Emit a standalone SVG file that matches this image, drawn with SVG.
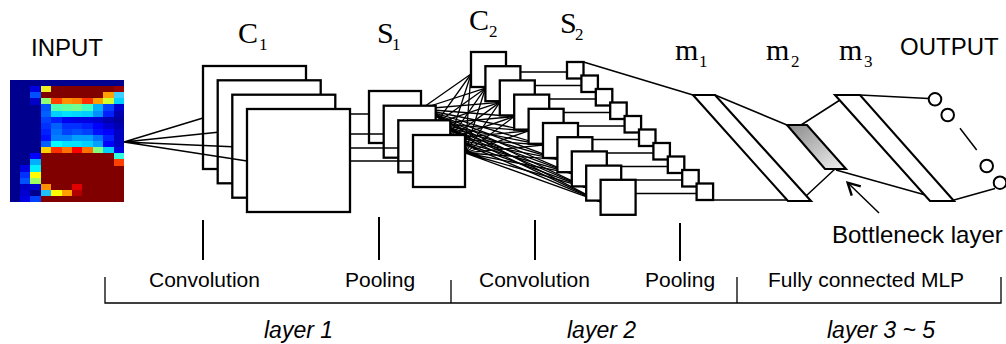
<svg xmlns="http://www.w3.org/2000/svg" width="1006" height="344" viewBox="0 0 1006 344">
  <defs>
    <linearGradient id="bottleneck-fill" x1="0" y1="0" x2="1" y2="1">
      <stop offset="0" stop-color="#8a8a8a"/>
      <stop offset="1" stop-color="#f2f2f2"/>
    </linearGradient>
    <marker id="open-arrow" viewBox="0 0 16 16" refX="13.5" refY="8" markerWidth="16" markerHeight="16" markerUnits="userSpaceOnUse" orient="auto">
      <path d="M2,1.5 L14,8 L2,14.5" fill="none" stroke="#000" stroke-width="2.4"/>
    </marker>
  </defs>
  <style>
    .map { fill: #fff; stroke: #000; stroke-width: 2.3; }
    .layer { fill: #fff; stroke: #000; stroke-width: 2.1; stroke-linejoin: miter; }
    .edge { fill: none; stroke: #000; stroke-width: 1.5; }
    .fan { fill: none; stroke: #000; stroke-width: 1.3; }
    .tick { stroke: #000; stroke-width: 2; }
    .bracket { fill: none; stroke: #000; stroke-width: 1.3; }
    .unit { fill: #fff; stroke: #000; stroke-width: 2; }
    .sans { font-family: "Liberation Sans", Arial, Helvetica, sans-serif; fill: #000; }
    .title { font-size: 24px; }
    .stage { font-size: 21px; }
    .layername { font-size: 23px; font-style: italic; }
    .sym { font-family: "Liberation Serif", "Times New Roman", serif; font-size: 30px; fill: #000; }
    .sub { font-size: 17px; }
  </style>

  <rect width="1006" height="344" fill="#fff"/>

  <!-- input feature map (11 x 20 cells, jet colour scale) -->
  <g id="input" shape-rendering="crispEdges">
    <rect x="9.5" y="80" width="114.4" height="122" fill="#00008f"/>
    <!-- large dark red areas -->
    <rect x="51.1" y="86.1" width="62.5" height="6.2" fill="#800000"/>
    <rect x="113.5" y="86.1" width="10.4" height="6.2" fill="#9a0000"/>
    <rect x="40.7" y="92.2" width="62.5" height="6.2" fill="#800000"/>
    <rect x="40.7" y="153.2" width="83.2" height="48.8" fill="#800000"/>
    <!-- row 2 -->
    <rect x="30.3" y="86.1" width="10.5" height="6.2" fill="#0000e0"/>
    <rect x="40.7" y="86.1" width="10.5" height="6.2" fill="#f0f020"/>
    <!-- row 3 -->
    <rect x="30.3" y="92.2" width="10.5" height="6.2" fill="#0050ff"/>
    <rect x="103.1" y="92.2" width="10.5" height="6.2" fill="#ffa000"/>
    <rect x="113.5" y="92.2" width="10.4" height="6.2" fill="#40d0ff"/>
    <!-- row 4 -->
    <rect x="30.3" y="98.3" width="10.5" height="6.2" fill="#0000c8"/>
    <rect x="40.7" y="98.3" width="10.5" height="6.2" fill="#90ff70"/>
    <rect x="51.1" y="98.3" width="10.5" height="6.2" fill="#ff4000"/>
    <rect x="61.5" y="98.3" width="10.5" height="6.2" fill="#ff9000"/>
    <rect x="71.9" y="98.3" width="10.5" height="6.2" fill="#ff8000"/>
    <rect x="82.3" y="98.3" width="10.5" height="6.2" fill="#ff3000"/>
    <rect x="92.7" y="98.3" width="10.5" height="6.2" fill="#ffa000"/>
    <rect x="103.1" y="98.3" width="10.5" height="6.2" fill="#d0ff30"/>
    <rect x="113.5" y="98.3" width="10.4" height="6.2" fill="#00d0ff"/>
    <!-- row 5 -->
    <rect x="40.7" y="104.4" width="10.5" height="6.2" fill="#0050ff"/>
    <rect x="51.1" y="104.4" width="10.5" height="6.2" fill="#50ffb0"/>
    <rect x="61.5" y="104.4" width="10.5" height="6.2" fill="#60ffa0"/>
    <rect x="71.9" y="104.4" width="10.5" height="6.2" fill="#70ff90"/>
    <rect x="82.3" y="104.4" width="10.5" height="6.2" fill="#40ffc0"/>
    <rect x="92.7" y="104.4" width="10.5" height="6.2" fill="#00b0ff"/>
    <rect x="103.1" y="104.4" width="10.5" height="6.2" fill="#0040ff"/>
    <rect x="113.5" y="104.4" width="10.4" height="6.2" fill="#0000d0"/>
    <!-- row 6 -->
    <rect x="40.7" y="110.5" width="10.5" height="6.2" fill="#0060ff"/>
    <rect x="51.1" y="110.5" width="10.5" height="6.2" fill="#00d0ff"/>
    <rect x="61.5" y="110.5" width="10.5" height="6.2" fill="#00e0ff"/>
    <rect x="71.9" y="110.5" width="10.5" height="6.2" fill="#00d8ff"/>
    <rect x="82.3" y="110.5" width="10.5" height="6.2" fill="#00d0ff"/>
    <rect x="92.7" y="110.5" width="10.5" height="6.2" fill="#0090ff"/>
    <rect x="103.1" y="110.5" width="10.5" height="6.2" fill="#0020ff"/>
    <rect x="113.5" y="110.5" width="10.4" height="6.2" fill="#0000b0"/>
    <!-- row 7 -->
    <rect x="40.7" y="116.6" width="10.5" height="6.2" fill="#0040ff"/>
    <rect x="51.1" y="116.6" width="10.5" height="6.2" fill="#0020ff"/>
    <rect x="61.5" y="116.6" width="10.5" height="6.2" fill="#0000f0"/>
    <rect x="71.9" y="116.6" width="10.5" height="6.2" fill="#0000e0"/>
    <rect x="82.3" y="116.6" width="10.5" height="6.2" fill="#0000e0"/>
    <rect x="92.7" y="116.6" width="10.5" height="6.2" fill="#0000d0"/>
    <rect x="103.1" y="116.6" width="10.5" height="6.2" fill="#0000b0"/>
    <rect x="113.5" y="116.6" width="10.4" height="6.2" fill="#0000a0"/>
    <!-- row 8 -->
    <rect x="40.7" y="122.7" width="10.5" height="6.2" fill="#0030ff"/>
    <rect x="51.1" y="122.7" width="10.5" height="6.2" fill="#0060ff"/>
    <rect x="61.5" y="122.7" width="10.5" height="6.2" fill="#0030ff"/>
    <rect x="71.9" y="122.7" width="10.5" height="6.2" fill="#0030ff"/>
    <rect x="82.3" y="122.7" width="10.5" height="6.2" fill="#0020ff"/>
    <rect x="92.7" y="122.7" width="10.5" height="6.2" fill="#0000ff"/>
    <rect x="103.1" y="122.7" width="10.5" height="6.2" fill="#0000d0"/>
    <rect x="113.5" y="122.7" width="10.4" height="6.2" fill="#0000b0"/>
    <!-- row 9 -->
    <rect x="40.7" y="128.8" width="10.5" height="6.2" fill="#0020ff"/>
    <rect x="51.1" y="128.8" width="10.5" height="6.2" fill="#0070ff"/>
    <rect x="61.5" y="128.8" width="10.5" height="6.2" fill="#0040ff"/>
    <rect x="71.9" y="128.8" width="10.5" height="6.2" fill="#0050ff"/>
    <rect x="82.3" y="128.8" width="10.5" height="6.2" fill="#0040ff"/>
    <rect x="92.7" y="128.8" width="10.5" height="6.2" fill="#0010ff"/>
    <rect x="103.1" y="128.8" width="10.5" height="6.2" fill="#0000ff"/>
    <rect x="113.5" y="128.8" width="10.4" height="6.2" fill="#0000c0"/>
    <!-- row 10 -->
    <rect x="40.7" y="134.9" width="10.5" height="6.2" fill="#0010ff"/>
    <rect x="51.1" y="134.9" width="10.5" height="6.2" fill="#0080ff"/>
    <rect x="61.5" y="134.9" width="10.5" height="6.2" fill="#0080ff"/>
    <rect x="71.9" y="134.9" width="10.5" height="6.2" fill="#00a0ff"/>
    <rect x="82.3" y="134.9" width="10.5" height="6.2" fill="#00a0ff"/>
    <rect x="92.7" y="134.9" width="10.5" height="6.2" fill="#0070ff"/>
    <rect x="103.1" y="134.9" width="10.5" height="6.2" fill="#0020ff"/>
    <rect x="113.5" y="134.9" width="10.4" height="6.2" fill="#0000c0"/>
    <!-- row 11 -->
    <rect x="40.7" y="141" width="10.5" height="6.2" fill="#0060ff"/>
    <rect x="51.1" y="141" width="10.5" height="6.2" fill="#00ffff"/>
    <rect x="61.5" y="141" width="10.5" height="6.2" fill="#00e0ff"/>
    <rect x="71.9" y="141" width="10.5" height="6.2" fill="#00e0ff"/>
    <rect x="82.3" y="141" width="10.5" height="6.2" fill="#00d0ff"/>
    <rect x="92.7" y="141" width="10.5" height="6.2" fill="#00a0ff"/>
    <rect x="103.1" y="141" width="10.5" height="6.2" fill="#0000ff"/>
    <rect x="113.5" y="141" width="10.4" height="6.2" fill="#0000c0"/>
    <!-- row 12 -->
    <rect x="40.7" y="147.1" width="10.5" height="6.2" fill="#ffd000"/>
    <rect x="51.1" y="147.1" width="10.5" height="6.2" fill="#ff3000"/>
    <rect x="61.5" y="147.1" width="10.5" height="6.2" fill="#ff7000"/>
    <rect x="71.9" y="147.1" width="10.5" height="6.2" fill="#ff0000"/>
    <rect x="82.3" y="147.1" width="10.5" height="6.2" fill="#ff7000"/>
    <rect x="92.7" y="147.1" width="10.5" height="6.2" fill="#80ff80"/>
    <rect x="103.1" y="147.1" width="10.5" height="6.2" fill="#00d0ff"/>
    <rect x="113.5" y="147.1" width="10.4" height="6.2" fill="#0000e0"/>
    <!-- rows 13-20 -->
    <rect x="30.3" y="153.2" width="10.5" height="6.2" fill="#0000ff"/>
    <rect x="113.5" y="153.2" width="10.4" height="6.2" fill="#30ffe0"/>
    <rect x="30.3" y="159.3" width="10.5" height="6.2" fill="#00b0ff"/>
    <rect x="113.5" y="159.3" width="10.4" height="6.2" fill="#ff4000"/>
    <rect x="19.9" y="165.4" width="10.5" height="6.2" fill="#0000e0"/>
    <rect x="30.3" y="165.4" width="10.5" height="6.2" fill="#00f0ff"/>
    <rect x="19.9" y="171.5" width="10.5" height="6.2" fill="#0030ff"/>
    <rect x="30.3" y="171.5" width="10.5" height="6.2" fill="#ffff00"/>
    <rect x="19.9" y="177.6" width="10.5" height="6.2" fill="#0050ff"/>
    <rect x="30.3" y="177.6" width="10.5" height="6.2" fill="#a0ff60"/>
    <rect x="19.9" y="183.7" width="10.5" height="6.2" fill="#0000c0"/>
    <rect x="30.3" y="183.7" width="10.5" height="6.2" fill="#0000d0"/>
    <rect x="40.7" y="183.7" width="10.5" height="6.2" fill="#ff9000"/>
    <rect x="71.9" y="183.7" width="10.5" height="6.2" fill="#e00000"/>
    <rect x="19.9" y="189.8" width="10.5" height="6.2" fill="#0000d0"/>
    <rect x="40.7" y="189.8" width="10.5" height="6.2" fill="#20c0ff"/>
    <rect x="51.1" y="189.8" width="10.5" height="6.2" fill="#ffff00"/>
    <rect x="61.5" y="189.8" width="10.5" height="6.2" fill="#ffa000"/>
    <rect x="71.9" y="189.8" width="10.5" height="6.2" fill="#b00000"/>
    <rect x="19.9" y="195.9" width="10.5" height="6.1" fill="#0000e0"/>
    <rect x="30.3" y="195.9" width="10.5" height="6.1" fill="#0040ff"/>
  </g>

  <!-- C1: four convolution maps -->
  <g id="c1">
    <rect class="map" x="203" y="66" width="103" height="103"/>
    <rect class="map" x="217.7" y="80.3" width="103" height="103"/>
    <rect class="map" x="232.3" y="94.7" width="103" height="103"/>
    <rect class="map" x="247" y="109" width="103" height="103"/>
  </g>

  <g id="edges-input-c1" class="connectors">
    <path class="edge" d="M124 142L203 118M124 142L217.7 132.3M124 142L232.3 146.7M124 142L247 161"/>
  </g>

  <!-- full connection S1 -> C2, and C2 -> S2 -->
  <g id="edges-s1-c2" class="connectors">
    <path class="fan" d="M421 109L471 74M421 109L485.4 88.2M421 109L499.8 102.4M421 109L514.2 116.6M421 109L528.6 130.8M421 109L543 145M421 109L557.4 159.2M421 109L571.8 173.4M421 109L586.2 187.6M421 109L600.6 201.8"/>
    <path class="fan" d="M435.7 123.7L471 74M435.7 123.7L485.4 88.2M435.7 123.7L499.8 102.4M435.7 123.7L514.2 116.6M435.7 123.7L528.6 130.8M435.7 123.7L543 145M435.7 123.7L557.4 159.2M435.7 123.7L571.8 173.4M435.7 123.7L586.2 187.6M435.7 123.7L600.6 201.8"/>
    <path class="fan" d="M450.3 138.3L471 74M450.3 138.3L485.4 88.2M450.3 138.3L499.8 102.4M450.3 138.3L514.2 116.6M450.3 138.3L528.6 130.8M450.3 138.3L543 145M450.3 138.3L557.4 159.2M450.3 138.3L571.8 173.4M450.3 138.3L586.2 187.6M450.3 138.3L600.6 201.8"/>
    <path class="fan" d="M465 153L471 74M465 153L485.4 88.2M465 153L499.8 102.4M465 153L514.2 116.6M465 153L528.6 130.8M465 153L543 145M465 153L557.4 159.2M465 153L571.8 173.4M465 153L586.2 187.6M465 153L600.6 201.8"/>
  </g>
  <g id="edges-c2-s2" class="connectors">
    <path class="edge" d="M506 72H567M520.4 85.5H581.4M534.8 99H595.8M549.2 112.5H610.2M563.6 126H624.6M578 139.5H639M592.4 153H653.4M606.8 166.5H667.8M621.2 180H682.2M635.6 193.5H696.6"/>
  </g>

  <!-- S1: four pooling maps -->
  <g id="s1">
    <rect class="map" x="369" y="91" width="52" height="52"/>
    <rect class="map" x="383.7" y="105.7" width="52" height="52"/>
    <rect class="map" x="398.3" y="120.3" width="52" height="52"/>
    <rect class="map" x="413" y="135" width="52" height="52"/>
  </g>

  <g id="edges-c1-s1" class="connectors">
    <path class="edge" d="M350 114H369M350 134H383.7M350 148H398.3M350 161H413"/>
  </g>

  <!-- C2: ten convolution maps -->
  <g id="c2">
    <rect class="map" x="471" y="52" width="35" height="35"/>
    <rect class="map" x="485.4" y="66.2" width="35" height="35"/>
    <rect class="map" x="499.8" y="80.4" width="35" height="35"/>
    <rect class="map" x="514.2" y="94.6" width="35" height="35"/>
    <rect class="map" x="528.6" y="108.8" width="35" height="35"/>
    <rect class="map" x="543" y="123" width="35" height="35"/>
    <rect class="map" x="557.4" y="137.2" width="35" height="35"/>
    <rect class="map" x="571.8" y="151.4" width="35" height="35"/>
    <rect class="map" x="586.2" y="165.6" width="35" height="35"/>
    <rect class="map" x="600.6" y="179.8" width="35" height="35"/>
  </g>

  <!-- S2: ten pooling maps -->
  <g id="s2">
    <rect class="map" x="567" y="62" width="16.5" height="16.5"/>
    <rect class="map" x="581.4" y="75.5" width="16.5" height="16.5"/>
    <rect class="map" x="595.8" y="89" width="16.5" height="16.5"/>
    <rect class="map" x="610.2" y="102.5" width="16.5" height="16.5"/>
    <rect class="map" x="624.6" y="116" width="16.5" height="16.5"/>
    <rect class="map" x="639" y="129.5" width="16.5" height="16.5"/>
    <rect class="map" x="653.4" y="143" width="16.5" height="16.5"/>
    <rect class="map" x="667.8" y="156.5" width="16.5" height="16.5"/>
    <rect class="map" x="682.2" y="170" width="16.5" height="16.5"/>
    <rect class="map" x="696.6" y="183.5" width="16.5" height="16.5"/>
  </g>

  <!-- fully connected part -->
  <g id="edges-mlp" class="connectors">
    <path class="edge" d="M583.5 62L693 95M713 200H788"/>
    <path class="edge" d="M715 95L787 125M835 169L806 196"/>
    <path class="edge" d="M801 125L840 100M836 170L929 196"/>
    <path class="edge" d="M860 95L928.5 98.5M954 200L995 188.5"/>
    <path class="edge" d="M960 128.3L976.7 150"/>
    <path class="edge" stroke-width="2.2" d="M879 213L848 183" marker-end="url(#open-arrow)"/>
  </g>

  <g id="m1">
    <polygon class="layer" points="693,95 715,95 811,201 788,201"/>
  </g>
  <g id="m2">
    <polygon class="layer" style="fill:url(#bottleneck-fill)" points="787,125 807,125 846,169 825,169"/>
  </g>
  <g id="m3">
    <polygon class="layer" points="835,95 860,95 954,201 930,201"/>
  </g>

  <g id="output">
    <circle class="unit" cx="935" cy="99.3" r="6.3"/>
    <circle class="unit" cx="947.7" cy="115" r="6.3"/>
    <circle class="unit" cx="986.7" cy="166" r="6.3"/>
    <circle class="unit" cx="1000" cy="182.7" r="6.3"/>
  </g>

  <!-- names of the stages -->
  <g id="titles">
    <text class="sans title" x="31" y="56">INPUT</text>
    <text class="sans title" x="900" y="55">OUTPUT</text>
    <text class="sym" x="238" y="43">C<tspan class="sub" x="259" y="50">1</tspan></text>
    <text class="sym" x="377" y="43">S<tspan class="sub" x="392" y="50">1</tspan></text>
    <text class="sym" x="469" y="30">C<tspan class="sub" x="489" y="37">2</tspan></text>
    <text class="sym" x="560" y="33">S<tspan class="sub" x="575" y="40">2</tspan></text>
    <text class="sym" x="675" y="60">m<tspan class="sub" x="699" y="67">1</tspan></text>
    <text class="sym" x="766" y="60">m<tspan class="sub" x="791" y="67">2</tspan></text>
    <text class="sym" x="839" y="60">m<tspan class="sub" x="864" y="67">3</tspan></text>
    <text class="sans" x="832" y="243" font-size="24">Bottleneck layer</text>
  </g>

  <!-- stage ticks and layer brackets -->
  <g id="legend">
    <path class="tick" d="M203 220V260M379 217V260M535 220V260M680 223V261"/>
    <path class="bracket" d="M105 277V303H1001V277M451 280V303M737 277V303"/>
    <text class="sans stage" x="149" y="287">Convolution</text>
    <text class="sans stage" x="345" y="287">Pooling</text>
    <text class="sans stage" x="479" y="287">Convolution</text>
    <text class="sans stage" x="645" y="287">Pooling</text>
    <text class="sans stage" x="768" y="287">Fully connected MLP</text>
    <text class="sans layername" x="264" y="338">layer 1</text>
    <text class="sans layername" x="567" y="338">layer 2</text>
    <text class="sans layername" x="827" y="338">layer 3 ~ 5</text>
  </g>
</svg>
